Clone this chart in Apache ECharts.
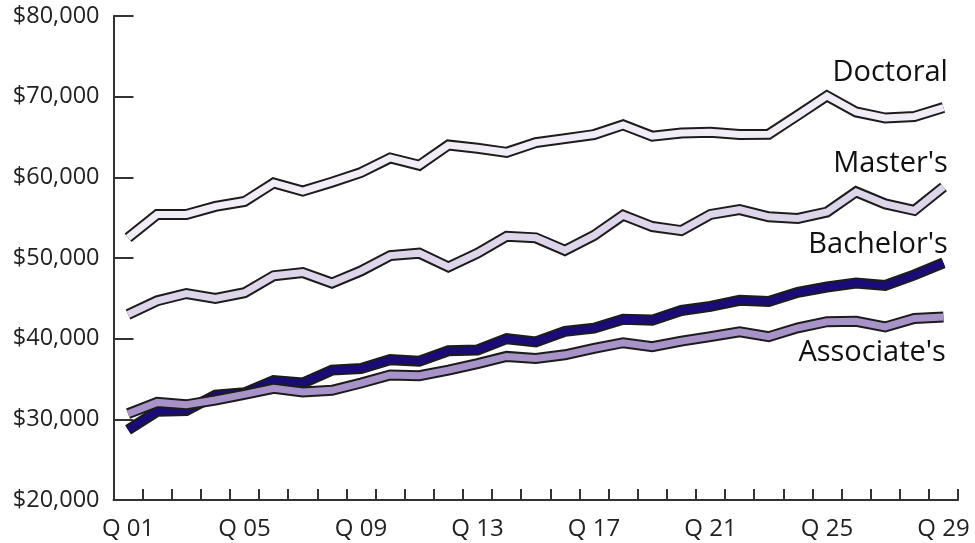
<!DOCTYPE html>
<html>
<head>
<meta charset="utf-8">
<script src="https://cdn.jsdelivr.net/npm/echarts@6/dist/echarts.min.js"></script>
<style>
  html, body { margin: 0; padding: 0; background: #ffffff; }
  #chart { width: 975px; height: 543px; }
</style>
</head>
<body>
<div id="chart"></div>
<script>
// Quarterly categories
const quarters = ['Q 01','Q 02','Q 03','Q 04','Q 05','Q 06','Q 07','Q 08','Q 09','Q 10',
                  'Q 11','Q 12','Q 13','Q 14','Q 15','Q 16','Q 17','Q 18','Q 19','Q 20',
                  'Q 21','Q 22','Q 23','Q 24','Q 25','Q 26','Q 27','Q 28','Q 29'];

// Salary by degree level, dollars
const doctoral   = [52500, 55400, 55400, 56400, 57000, 59300, 58300, 59400, 60600, 62400,
                    61500, 64000, 63600, 63100, 64300, 64800, 65300, 66500, 65100, 65500,
                    65600, 65300, 65350, 67700, 70100, 68100, 67350, 67550, 68650];
const masters    = [43000, 44700, 45600, 45000, 45700, 47800, 48200, 46900, 48400, 50300,
                    50600, 48900, 50600, 52700, 52500, 50950, 52800, 55300, 53900, 53400,
                    55400, 56000, 55100, 54900, 55700, 58200, 56700, 55900, 58800];
const bachelors  = [28700, 31000, 31100, 33000, 33300, 34800, 34500, 36100, 36300, 37400,
                    37200, 38500, 38600, 40000, 39600, 40900, 41300, 42400, 42300, 43500,
                    44000, 44750, 44600, 45750, 46400, 46900, 46600, 47900, 49400];
const associates = [30700, 32100, 31800, 32400, 33100, 33850, 33400, 33600, 34500, 35500,
                    35400, 36100, 36900, 37800, 37550, 38000, 38800, 39500, 39000, 39700,
                    40250, 40850, 40250, 41350, 42100, 42150, 41450, 42500, 42700];

const seriesNames = ["Doctoral", "Master's", "Bachelor's", "Associate's"];

const FONT = '"Open Sans", "Noto Sans", sans-serif';
const OUTLINE = '#1c1c1c';

// Each line is a wide dark stroke with a narrower coloured stroke on top
function bandPair(name, values, fill, labelOffset) {
  const last = values.length - 1;
  const common = {
    type: 'line',
    symbol: 'circle',
    symbolSize: 1,
    showSymbol: true,
    silent: true,
    animation: false,
    emphasis: { disabled: true },
    itemStyle: { color: 'rgba(0,0,0,0)' }
  };
  const outline = Object.assign({}, common, {
    name: name + ' outline',
    data: values.slice(),
    lineStyle: { color: OUTLINE, width: 11, join: 'miter', cap: 'butt', miterLimit: 10 }
  });
  const inner = Object.assign({}, common, {
    name: name,
    data: values.map(function (v, i) {
      if (i !== last) return v;
      return {
        value: v,
        label: {
          show: true,
          formatter: name,
          position: labelOffset,
          align: 'right',
          verticalAlign: 'middle',
          color: '#111',
          fontFamily: FONT,
          fontSize: 29
        }
      };
    }),
    lineStyle: { color: fill, width: 7, join: 'miter', cap: 'butt', miterLimit: 10 }
  });
  return [outline, inner];
}

const chart = echarts.init(document.getElementById('chart'), null, { renderer: 'canvas' });

const option = {
  backgroundColor: '#ffffff',
  animation: false,
  grid: { left: 113.5, right: 17, top: 16, bottom: 43, containLabel: false },
  xAxis: {
    type: 'category',
    data: quarters,
    boundaryGap: true,
    axisLine: { lineStyle: { color: '#333', width: 2 } },
    axisTick: { show: true, inside: true, length: 11, interval: 0, lineStyle: { color: '#333', width: 2 } },
    axisLabel: {
      interval: 3,
      color: '#222',
      fontFamily: FONT,
      fontSize: 24,
      margin: 17
    },
    splitLine: { show: false }
  },
  yAxis: {
    type: 'value',
    min: 20000,
    max: 80000,
    interval: 10000,
    axisLine: { show: true, lineStyle: { color: '#333', width: 2 } },
    axisTick: { show: true, inside: true, length: 20, lineStyle: { color: '#333', width: 2 } },
    axisLabel: {
      color: '#222',
      fontFamily: FONT,
      fontSize: 23.5,
      margin: 14,
      formatter: function (v) {
        return '$' + String(v).replace(/\B(?=(\d{3})+(?!\d))/g, ',');
      }
    },
    splitLine: { show: false }
  },
  series: [].concat(
    bandPair(seriesNames[0], doctoral,   '#f0edf6', [5, -34]),
    bandPair(seriesNames[1], masters,    '#ddd5ea', [5, -23]),
    bandPair(seriesNames[2], bachelors,  '#1b0b79', [5, -18]),
    bandPair(seriesNames[3], associates, '#a893c9', [3, 36])
  )
};

chart.setOption(option);
</script>
</body>
</html>
